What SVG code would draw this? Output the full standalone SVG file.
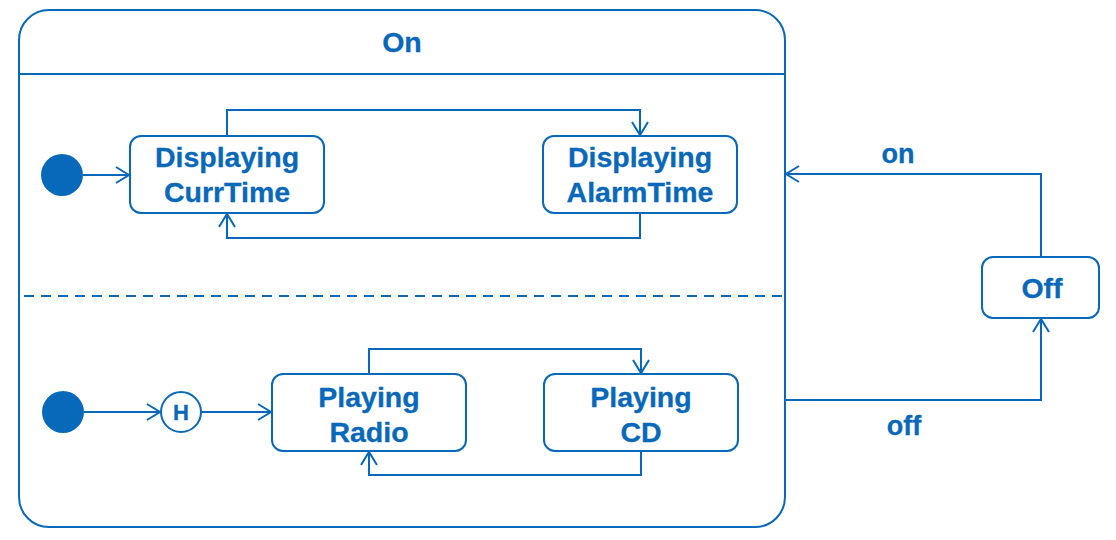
<svg xmlns="http://www.w3.org/2000/svg" width="1116" height="540" viewBox="0 0 1116 540">
<defs>
<style>
.s{fill:#fff;stroke:#0868BA;stroke-width:2}
.l{fill:none;stroke:#0868BA;stroke-width:2}
.t{font-family:"Liberation Sans",Arial,sans-serif;font-weight:bold;font-size:28.5px;fill:#0868BA;stroke:#0868BA;stroke-width:0.3;text-anchor:middle}
.dot{fill:#0868BA}
</style>
<marker id="a" markerUnits="userSpaceOnUse" markerWidth="20" markerHeight="20" viewBox="-14 -10 16 20" refX="0" refY="0" orient="auto">
<path d="M-13,-8 L0,0 L-13,8" fill="none" stroke="#0868BA" stroke-width="2"/>
</marker>
</defs>
<rect width="1116" height="540" fill="#fff"/>
<g id="on">
<rect class="s" x="19" y="10" width="766" height="517" rx="30"/>
<line class="l" x1="19" y1="74" x2="785" y2="74"/>
<line class="l" x1="24" y1="296" x2="785" y2="296" stroke-dasharray="10,7"/>
<text class="t" x="402" y="52">On</text>
</g>
<g id="init1"><circle class="dot" cx="62" cy="175" r="21"/></g>
<g id="currtime">
<rect class="s" x="130" y="136" width="194" height="77" rx="11"/>
<text class="t" x="227" y="167">Displaying</text>
<text class="t" x="227" y="202">CurrTime</text>
</g>
<g id="alarmtime">
<rect class="s" x="543" y="136" width="194" height="77" rx="11"/>
<text class="t" x="640" y="167">Displaying</text>
<text class="t" x="640" y="202">AlarmTime</text>
</g>
<g id="init2"><circle class="dot" cx="63" cy="412" r="21"/></g>
<g id="history">
<circle class="s" cx="181" cy="412" r="20"/>
<text class="t" x="181" y="420" style="font-size:22px">H</text>
</g>
<g id="radio">
<rect class="s" x="272" y="374" width="194" height="77" rx="11"/>
<text class="t" x="369" y="407">Playing</text>
<text class="t" x="369" y="442">Radio</text>
</g>
<g id="cd">
<rect class="s" x="544" y="374" width="194" height="77" rx="11"/>
<text class="t" x="641" y="407">Playing</text>
<text class="t" x="641" y="442">CD</text>
</g>
<g id="off">
<rect class="s" x="982" y="257" width="117" height="61" rx="11"/>
<text class="t" x="1042" y="298">Off</text>
</g>
<g id="connectors">
<path class="l" d="M83,175 H129" marker-end="url(#a)"/>
<path class="l" d="M227,136 V110 H640 V135" marker-end="url(#a)"/>
<path class="l" d="M640,213 V238 H227 V214" marker-end="url(#a)"/>
<path class="l" d="M84,412 H160" marker-end="url(#a)"/>
<path class="l" d="M201,412 H271" marker-end="url(#a)"/>
<path class="l" d="M369,374 V349 H641 V373" marker-end="url(#a)"/>
<path class="l" d="M641,451 V475 H369 V452" marker-end="url(#a)"/>
<path class="l" d="M1041,257 V174 H786" marker-end="url(#a)"/>
<path class="l" d="M785,400 H1041 V319" marker-end="url(#a)"/>
<text class="t" x="898" y="163" style="font-size:27px">on</text>
<text class="t" x="904" y="435" style="font-size:27px">off</text>
</g>
</svg>
